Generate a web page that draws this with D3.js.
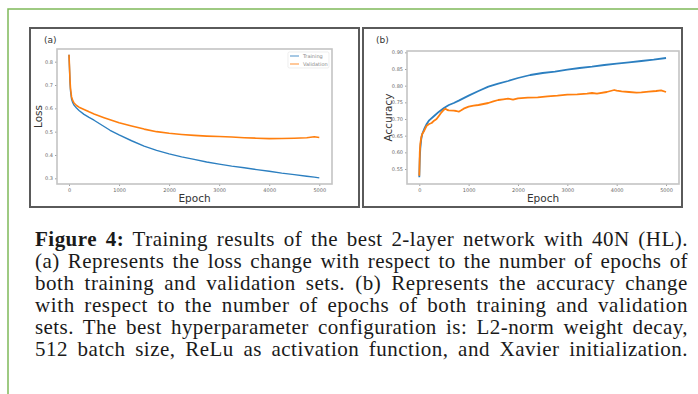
<!DOCTYPE html>
<html>
<head>
<meta charset="utf-8">
<script src="https://cdn.jsdelivr.net/npm/d3@7"></script>
<style>
  body { margin: 0; background: #fff; }
  svg { display: block; }
</style>
</head>
<body>
<svg id="fig" width="698" height="394"></svg>
<script>
// ---- data ----
var lossEpochs = [0, 10, 20, 30, 50, 75, 100, 150, 200, 300, 400, 500, 700, 820, 1000, 1250, 1500, 1750, 2000, 2250, 2500, 2750, 3000, 3250, 3500, 3750, 4000, 4250, 4500, 4750, 4900, 5000];
var lossTrain  = [0.83, 0.77, 0.71, 0.675, 0.64, 0.624, 0.614, 0.601, 0.591, 0.574, 0.561, 0.549, 0.522, 0.506, 0.486, 0.461, 0.438, 0.42, 0.405, 0.392, 0.381, 0.37, 0.361, 0.352, 0.345, 0.337, 0.33, 0.322, 0.316, 0.309, 0.305, 0.302];
var lossVal    = [0.83, 0.775, 0.72, 0.685, 0.65, 0.633, 0.623, 0.612, 0.605, 0.595, 0.585, 0.576, 0.56, 0.551, 0.538, 0.524, 0.511, 0.5, 0.493, 0.488, 0.484, 0.481, 0.479, 0.477, 0.474, 0.472, 0.47, 0.471, 0.472, 0.474, 0.478, 0.475];

var accTrainEpochs = [0, 10, 20, 40, 60, 100, 150, 200, 300, 400, 500, 600, 700, 800, 1000, 1200, 1400, 1600, 1800, 2000, 2250, 2500, 2750, 3000, 3250, 3500, 3750, 4000, 4250, 4500, 4750, 5000];
var accTrain       = [0.525, 0.58, 0.61, 0.64, 0.655, 0.67, 0.685, 0.696, 0.709, 0.722, 0.733, 0.742, 0.748, 0.755, 0.77, 0.784, 0.797, 0.806, 0.814, 0.823, 0.832, 0.838, 0.842, 0.848, 0.853, 0.857, 0.862, 0.866, 0.87, 0.874, 0.878, 0.883];

var accValEpochs = [0, 10, 20, 40, 60, 100, 150, 200, 250, 300, 350, 400, 450, 500, 530, 570, 600, 700, 750, 800, 850, 900, 1000, 1100, 1200, 1300, 1400, 1500, 1600, 1700, 1800, 1900, 2000, 2200, 2400, 2600, 2800, 3000, 3200, 3400, 3500, 3600, 3800, 3950, 4000, 4100, 4250, 4400, 4500, 4650, 4800, 4900, 5000];
var accVal       = [0.53, 0.6, 0.625, 0.645, 0.655, 0.665, 0.68, 0.685, 0.688, 0.695, 0.7, 0.71, 0.72, 0.728, 0.731, 0.727, 0.726, 0.725, 0.724, 0.722, 0.726, 0.731, 0.737, 0.74, 0.742, 0.745, 0.748, 0.753, 0.757, 0.759, 0.761, 0.758, 0.762, 0.764, 0.765, 0.768, 0.77, 0.773, 0.774, 0.776, 0.778, 0.776, 0.781, 0.787, 0.785, 0.783, 0.781, 0.779, 0.78, 0.782, 0.784, 0.786, 0.781];

var xTicks = [0, 1000, 2000, 3000, 4000, 5000];
var lossTicks = [0.3, 0.4, 0.5, 0.6, 0.7, 0.8];
var accTicks = [0.55, 0.60, 0.65, 0.70, 0.75, 0.80, 0.85, 0.90];
var seriesNames = ["Training", "Validation"];
var seriesColors = ["#2c7fc0", "#ff7f0e"];

var captionLines = [
  "Training results of the best 2-layer network with 40N (HL).",
  "(a) Represents the loss change with respect to the number of epochs of",
  "both training and validation sets. (b) Represents the accuracy change",
  "with respect to the number of epochs of both training and validation",
  "sets. The best hyperparameter configuration is: L2-norm weight decay,",
  "512 batch size, ReLu as activation function, and Xavier initialization."
];

var svg = d3.select("#fig");

// green page frame
svg.append("path")
  .attr("d", "M 8 394 V 9 H 698")
  .attr("fill", "none")
  .attr("stroke", "#7fb95a")
  .attr("stroke-width", 1.5);

// panel frames
svg.append("rect").attr("x", 30).attr("y", 28).attr("width", 329).attr("height", 179)
  .attr("fill", "#fff").attr("stroke", "#5a5a5a").attr("stroke-width", 2);
svg.append("rect").attr("x", 363).attr("y", 28).attr("width", 319).attr("height", 179)
  .attr("fill", "#fff").attr("stroke", "#5a5a5a").attr("stroke-width", 2);

function drawPanel(opt) {
  var x = d3.scaleLinear().domain(opt.xDomain).range([opt.left, opt.right]);
  var y = d3.scaleLinear().domain(opt.yDomain).range([opt.bottom, opt.top]);

  var g = svg.append("g");

  var xa = g.append("g")
    .attr("transform", "translate(0," + opt.bottom + ")")
    .call(d3.axisBottom(x).tickValues(xTicks).tickSize(2).tickPadding(2).tickFormat(d3.format("d")));
  var ya = g.append("g")
    .attr("transform", "translate(" + opt.left + ",0)")
    .call(d3.axisLeft(y).tickValues(opt.yTicks).tickSize(2).tickPadding(2).tickFormat(opt.fmt));

  [xa, ya].forEach(function(a) {
    a.select(".domain").remove();
    a.selectAll("line").attr("stroke", "#888").attr("stroke-width", 0.8);
    a.selectAll("text").attr("fill", "#666").style("font-family", "DejaVu Sans")
      .style("font-size", "5px");
  });

  var line = d3.line().x(function(d) { return x(d[0]); }).y(function(d) { return y(d[1]); });
  opt.series.forEach(function(s, i) {
    g.append("path")
      .datum(d3.zip(s.epochs, s.values))
      .attr("fill", "none")
      .attr("stroke", seriesColors[i])
      .attr("stroke-width", s.width)
      .attr("stroke-linejoin", "round")
      .attr("d", line);
  });

  // spines
  g.append("rect")
    .attr("x", opt.left).attr("y", opt.top)
    .attr("width", opt.right - opt.left).attr("height", opt.bottom - opt.top)
    .attr("fill", "none").attr("stroke", "#c4c4c4").attr("stroke-width", 1.6);

  g.append("text").attr("x", opt.tagX).attr("y", 43).text(opt.tag)
    .attr("fill", "#333").style("font-family", "DejaVu Sans").style("font-size", "9px");
  g.append("text").attr("x", (opt.left + opt.right) / 2).attr("y", 202)
    .attr("text-anchor", "middle").text("Epoch")
    .attr("fill", "#333").style("font-family", "DejaVu Sans").style("font-size", "10.5px");
  g.append("text")
    .attr("transform", "translate(" + opt.yLabelX + "," + ((opt.top + opt.bottom) / 2) + ") rotate(-90)")
    .attr("text-anchor", "middle").text(opt.yLabel)
    .attr("fill", "#333").style("font-family", "DejaVu Sans").style("font-size", "10.5px");
  return g;
}

var ga = drawPanel({
  left: 57, right: 332, top: 49, bottom: 184,
  xDomain: [-240, 5254], yDomain: [0.2756, 0.8544],
  yTicks: lossTicks, fmt: d3.format(".1f"),
  tag: "(a)", tagX: 44, yLabel: "Loss", yLabelX: 42,
  series: [
    { epochs: lossEpochs, values: lossTrain, width: 1.4 },
    { epochs: lossEpochs, values: lossVal, width: 1.6 }
  ]
});

drawPanel({
  left: 407, right: 679, top: 51, bottom: 184,
  xDomain: [-249, 5263], yDomain: [0.505, 0.904],
  yTicks: accTicks, fmt: d3.format(".2f"),
  tag: "(b)", tagX: 376, yLabel: "Accuracy", yLabelX: 392,
  series: [
    { epochs: accTrainEpochs, values: accTrain, width: 1.8 },
    { epochs: accValEpochs, values: accVal, width: 1.8 }
  ]
});

// legend for panel (a)
var lg = ga.append("g").attr("transform", "translate(288,52)");
lg.append("rect").attr("width", 41).attr("height", 16).attr("rx", 1.5)
  .attr("fill", "#fff").attr("stroke", "#e2e2e2").attr("stroke-width", 0.6);
seriesNames.forEach(function(n, i) {
  lg.append("line").attr("x1", 2).attr("x2", 11).attr("y1", 4 + i * 8).attr("y2", 4 + i * 8)
    .attr("stroke", seriesColors[i]).attr("stroke-width", 1.2).attr("opacity", 0.7);
  lg.append("text").attr("x", 15).attr("y", 5.8 + i * 8).text(n)
    .attr("fill", "#888").style("font-family", "DejaVu Sans").style("font-size", "5px");
});

// caption, justified: part letter spacing, rest word spacing
var capLeft = 35, capRight = 688;
var baselines = [246, 268, 290, 312, 334, 356];
captionLines.forEach(function(s, i) {
  var t = svg.append("text").attr("x", capLeft).attr("y", baselines[i])
    .attr("fill", "#1a1a1a").style("font-family", "Liberation Serif").style("font-size", "21px");
  if (i === 0) {
    t.append("tspan").attr("font-weight", "bold").text("Figure 4:");
    t.append("tspan").text(" " + s);
  } else {
    t.text(s);
  }
  var full = (i === 0 ? "Figure 4: " : "") + s;
  var spaces = full.split(" ").length - 1;
  var w = t.node().getComputedTextLength();
  var extra = capRight - capLeft - w;
  var ls = Math.max(0, extra * 0.5 / full.length);
  t.style("letter-spacing", ls + "px");
  var w2 = t.node().getComputedTextLength();
  t.style("word-spacing", ((capRight - capLeft - w2) / spaces) + "px");
});
</script>
</body>
</html>
